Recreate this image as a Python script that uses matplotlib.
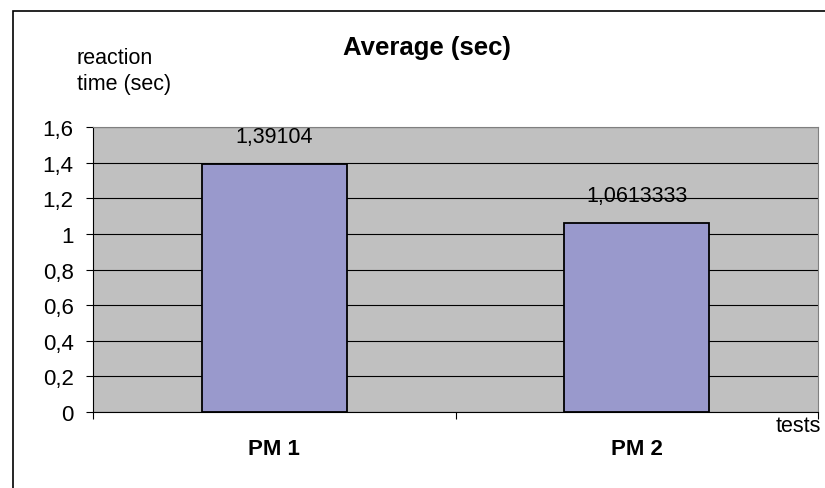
import matplotlib.pyplot as plt
import matplotlib.patches as patches
import numpy as np

categories = ['PM 1', 'PM 2']
values = [1.39104, 1.0613333]
value_labels = ['1,39104', '1,0613333']
yticks = [0, 0.2, 0.4, 0.6, 0.8, 1.0, 1.2, 1.4, 1.6]
ytick_labels = ['0', '0,2', '0,4', '0,6', '0,8', '1', '1,2', '1,4', '1,6']

plt.rcParams['font.family'] = ['Liberation Sans', 'DejaVu Sans']

fig = plt.figure(figsize=(8.25, 4.89), dpi=100)
ax = fig.add_axes([93/825, 1-413/489, (818-93)/825, (413-128)/489])

x = np.arange(len(categories))
ax.set_facecolor('#c0c0c0')
ax.bar(x, values, width=0.4, color='#9999cc', edgecolor='black', linewidth=1.3, zorder=3)
for xi, v, lab in zip(x, values, value_labels):
    ax.annotate(lab, (xi, v), xytext=(0, 16), textcoords='offset points',
                ha='center', va='baseline', fontsize=15.5, zorder=4)

ax.set_xlim(-0.5, 1.5)
ax.set_ylim(0, 1.6)
ax.set_yticks(yticks)
ax.set_yticklabels(ytick_labels, fontsize=16)
ax.yaxis.grid(True, color='black', linewidth=0.8, zorder=0)
ax.set_axisbelow(True)
ax.tick_params(axis='y', direction='out', length=5, width=0.8, pad=9)

ax.set_xticks(x)
ax.set_xticklabels(categories, fontsize=16, fontweight='bold')
ax.set_xticks([-0.5, 0.5, 1.5], minor=True)
ax.tick_params(axis='x', which='major', length=0, pad=19)
ax.tick_params(axis='x', which='minor', direction='out', length=5, width=0.8)

for s in ['top', 'right']:
    ax.spines[s].set_color('#808080')
ax.spines['left'].set_color('black')
ax.spines['bottom'].set_color('black')

fig.text(77/825, 1-64/489, 'reaction', ha='left', va='baseline', fontsize=15.5)
fig.text(77/825, 1-90/489, 'time (sec)', ha='left', va='baseline', fontsize=15.5)
fig.text(427/825, 1-55/489, 'Average (sec)', ha='center', va='baseline', fontsize=18.5, fontweight='bold')
fig.text(821/825, 1-432/489, 'tests', ha='right', va='baseline', fontsize=15.5)

border = patches.Rectangle((13/825, -0.05), 1.1, 1-12/489+0.05, transform=fig.transFigure,
                           fill=False, edgecolor='black', linewidth=1.2)
fig.patches.append(border)

fig.savefig('out.png', dpi=100)
